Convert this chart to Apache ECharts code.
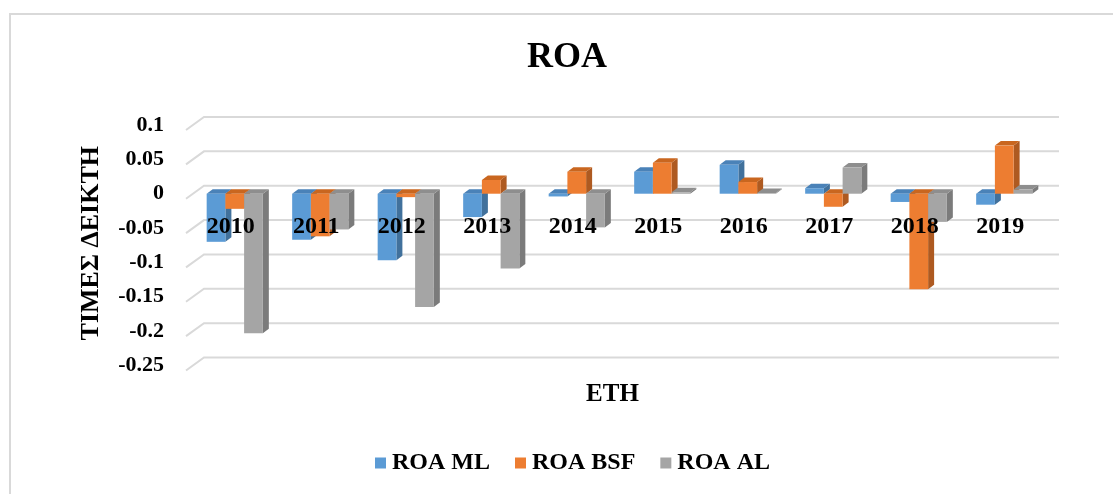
<!DOCTYPE html>
<html>
<head>
<meta charset="utf-8">
<title>ROA</title>
<script src="https://cdn.jsdelivr.net/npm/echarts@6/dist/echarts.min.js"></script>
<style>
  html, body { margin: 0; padding: 0; background: #fff; }
  #chart { width: 1113px; height: 494px; }
</style>
</head>
<body>
<div id="chart"></div>
<script>
var years = ['2010', '2011', '2012', '2013', '2014', '2015', '2016', '2017', '2018', '2019'];
var roaML  = [-0.070, -0.067, -0.097, -0.034, -0.004, 0.032, 0.042, 0.008, -0.012, -0.016];
var roaBSF = [-0.022, -0.062, -0.005, 0.020, 0.032, 0.045, 0.017, -0.019, -0.139, 0.070];
var roaAL  = [-0.203, -0.052, -0.165, -0.109, -0.049, 0.002, 0.001, 0.038, -0.041, 0.006];
var yTicks = [-0.25, -0.2, -0.15, -0.1, -0.05, 0, 0.05, 0.1];

var font = '"Liberation Serif", "Times New Roman", serif';
var dom = document.getElementById('chart');
var myChart = echarts.init(dom);

// colours: front, side, top
var shades = [
    ['#5B9BD5', '#41719C', '#4A82B8'],
    ['#ED7D31', '#AE5A21', '#C9661F'],
    ['#A5A5A5', '#7B7B7B', '#8E8E8E']
];

// fake 3d bar, k = position inside the group
function barItem(k) {
    return function (params, api) {
        var cat = api.value(0), v = api.value(1);
        var band = api.size([1, 0])[0];
        var w = band * 0.219;
        var dx = 6, dy = -4.5;
        var zero = api.coord([cat, 0]);
        var end = api.coord([cat, v]);
        var x0 = zero[0] + (k - 1.5) * w;
        var yA = Math.min(zero[1], end[1]);
        var yB = Math.max(zero[1], end[1]);
        var c = shades[k];
        return {
            type: 'group',
            children: [
                { type: 'polygon', shape: { points: [[x0 + w, yA], [x0 + w + dx, yA + dy], [x0 + w + dx, yB + dy], [x0 + w, yB]] }, style: { fill: c[1] } },
                { type: 'polygon', shape: { points: [[x0, yA], [x0 + dx, yA + dy], [x0 + w + dx, yA + dy], [x0 + w, yA]] }, style: { fill: c[2] } },
                { type: 'rect', shape: { x: x0, y: yA, width: w, height: Math.max(yB - yA, 0.5) }, style: { fill: c[0] } }
            ]
        };
    };
}

// back wall gridlines with the little floor diagonal on the left
function gridItem(params, api) {
    var cs = params.coordSys;
    var y = api.coord([0, api.value(1)])[1];
    return {
        type: 'polyline',
        shape: { points: [[cs.x - 6, y + 5], [cs.x + 12, y - 8], [cs.x + cs.width + 12, y - 8]] },
        style: { stroke: '#d9d9d9', lineWidth: 2, fill: null }
    };
}

function pairs(arr) {
    return arr.map(function (v, i) { return [i, v]; });
}

var option = {
    animation: false,
    graphic: [{
        type: 'rect',
        shape: { x: 10, y: 14, width: 1120, height: 500 },
        style: { fill: null, stroke: '#d9d9d9', lineWidth: 2 },
        silent: true
    }],
    title: {
        text: 'ROA',
        left: 522,
        top: 35,
        textStyle: { fontFamily: font, fontSize: 36, fontWeight: 'bold', color: '#000' }
    },
    legend: {
        left: 370,
        top: 446,
        itemGap: 25,
        itemWidth: 11,
        itemHeight: 11,
        icon: 'rect',
        data: ['ROA ML', 'ROA BSF', 'ROA AL'],
        textStyle: { fontFamily: font, fontSize: 24, fontWeight: 'bold', color: '#000', padding: [0, 0, 0, 1] }
    },
    grid: { left: 192, right: 66, top: 125, bottom: 128.5, containLabel: false, outerBoundsMode: 'none' },
    xAxis: {
        type: 'category',
        data: years,
        z: 10,
        position: 'bottom',
        offset: -172,   // axis drawn at the zero level, like the Excel original
        name: 'ΕΤΗ',
        nameLocation: 'middle',
        nameGap: 189,
        nameTextStyle: { fontFamily: font, fontSize: 25, fontWeight: 'bold', color: '#000', padding: [0, 14, 0, 0] },
        axisLine: { show: false, onZero: false },
        axisTick: { show: false },
        axisLabel: {
            margin: 21,
            padding: [0, 8, 0, 0],
            fontFamily: font, fontSize: 24, fontWeight: 'bold', color: '#000'
        }
    },
    yAxis: {
        type: 'value',
        min: -0.25,
        max: 0.1,
        interval: 0.05,
        name: 'ΤΙΜΕΣ ΔΕΙΚΤΗ',
        nameLocation: 'middle',
        nameRotate: 90,
        nameGap: 88,
        nameTextStyle: { fontFamily: font, fontSize: 26, fontWeight: 'bold', color: '#000', padding: [0, 0, 0, 4] },
        axisLine: { show: false },
        axisTick: { show: false },
        splitLine: { show: false },
        axisLabel: {
            margin: 28,
            showMinLabel: true,
            showMaxLabel: true,
            hideOverlap: false,
            fontFamily: font, fontSize: 22, fontWeight: 'bold', color: '#000',
            formatter: function (v) { return String(Math.round(v * 100) / 100); }
        }
    },
    series: [
        {
            type: 'custom',
            name: 'grid',
            silent: true,
            z: 1,
            renderItem: gridItem,
            data: pairs(yTicks).map(function (d) { return [0, d[1]]; })
        },
        { type: 'custom', name: 'ROA ML', z: 3, itemStyle: { color: '#5B9BD5' }, renderItem: barItem(0), data: pairs(roaML) },
        { type: 'custom', name: 'ROA BSF', z: 4, itemStyle: { color: '#ED7D31' }, renderItem: barItem(1), data: pairs(roaBSF) },
        { type: 'custom', name: 'ROA AL', z: 5, itemStyle: { color: '#A5A5A5' }, renderItem: barItem(2), data: pairs(roaAL) }
    ]
};

if (option && typeof option === 'object') {
    myChart.setOption(option, true);
}
</script>
</body>
</html>
